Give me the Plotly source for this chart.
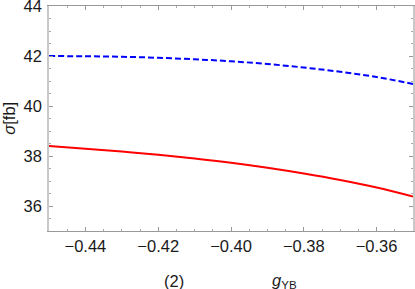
import plotly.graph_objects as go

g_yb = [-0.45, -0.44, -0.43, -0.42, -0.41, -0.40, -0.39, -0.38, -0.37, -0.36, -0.35]
sigma_blue = [42.00, 41.99, 41.97, 41.93, 41.87, 41.79, 41.68, 41.54, 41.37, 41.16, 40.88]
sigma_red = [38.40, 38.29, 38.18, 38.05, 37.90, 37.73, 37.53, 37.30, 37.04, 36.74, 36.38]
x_ticks = [-0.44, -0.42, -0.40, -0.38, -0.36]
x_tick_text = ["−0.44", "−0.42", "−0.40", "−0.38", "−0.36"]
y_ticks = [36, 38, 40, 42, 44]

fig = go.Figure()
fig.add_trace(go.Scatter(x=g_yb, y=sigma_blue, mode="lines", line_shape="spline",
                         line=dict(color="#0000ff", width=2, dash="6px,3px"), showlegend=False))
fig.add_trace(go.Scatter(x=g_yb, y=sigma_red, mode="lines", line_shape="spline",
                         line=dict(color="#ff0000", width=2), showlegend=False))

font = dict(family="Liberation Sans, Arial, sans-serif", size=16.5, color="#1a1a1a")

fig.update_layout(
    width=415, height=289,
    margin=dict(l=49, r=2, t=6, b=58, autoexpand=False),
    plot_bgcolor="white", paper_bgcolor="white",
    font=font,
    xaxis=dict(range=[-0.45, -0.35], tickvals=x_ticks, ticktext=x_tick_text,
               ticks="inside", ticklen=4, tickcolor="#999", tickwidth=1,
               minor=dict(dtick=0.005, tick0=-0.45, ticks="inside", ticklen=2, tickcolor="#aaa"),
               showline=True, linecolor="#999", linewidth=1, mirror="ticks",
               showgrid=False, zeroline=False, tickfont=font, automargin=False,
               ticklabeloverflow="allow"),
    yaxis=dict(range=[35, 44.001], tickvals=y_ticks,
               ticks="inside", ticklen=4, tickcolor="#999", tickwidth=1,
               minor=dict(dtick=0.5, tick0=35, ticks="inside", ticklen=2, tickcolor="#aaa"),
               showline=True, linecolor="#c8c8c8", linewidth=1.5, mirror="ticks",
               showgrid=False, zeroline=False, tickfont=font, ticklabelstandoff=2,
               automargin=False, ticklabeloverflow="allow"),
    annotations=[
        dict(text="(2)", x=-0.4157, y=-0.222, xref="x", yref="paper",
             showarrow=False, font=font, xanchor="center", yanchor="middle"),
        dict(text="<i>g</i><sub>YB</sub>", x=-0.3852, y=-0.222, xref="x", yref="paper",
             showarrow=False, font=font, xanchor="center", yanchor="middle"),
        dict(text="<i>σ</i>[fb]", x=-0.112, y=0.5, xref="paper", yref="paper",
             showarrow=False, font=font, textangle=-90, xanchor="center", yanchor="middle"),
    ],
)

fig.write_html("out.html", config={"displayModeBar": False},
               post_script="document.body.style.margin='0';")
